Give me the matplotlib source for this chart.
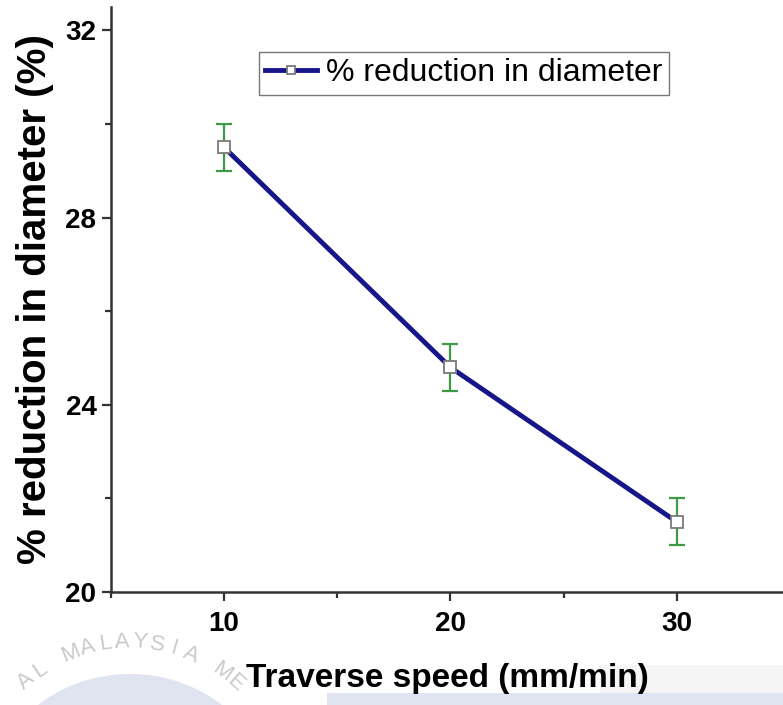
import numpy as np
import matplotlib
matplotlib.use("Agg")
import matplotlib.pyplot as plt
from matplotlib.patches import Circle, Rectangle
from matplotlib.ticker import MultipleLocator

plt.rcParams['font.family'] = ['Liberation Sans', 'DejaVu Sans']

# Traverse speed vs. percentage reduction in diameter
speed = [10, 20, 30]
reduction = [29.5, 24.8, 21.5]
reduction_err = [0.5, 0.5, 0.5]
x_ticks = [10, 20, 30]
y_ticks = [20, 24, 28, 32]

W, H = 783, 705
fig = plt.figure(figsize=(W / 100, H / 100), dpi=100)
ax = fig.add_axes([111 / W, 1 - 592 / H, 1 - 111 / W, 585 / H])

# faint seal watermark and bands at the bottom of the page
fig.patches.append(Circle((130 / W, 1 - 800 / H), 140 / W, transform=fig.transFigure,
                          facecolor='#dfe4f0', edgecolor='none', zorder=-5))
fig.patches.append(Rectangle((600 / W, 12 / H), 1, 28 / H, transform=fig.transFigure,
                             facecolor='#f5f5f5', edgecolor='none', zorder=-6))
fig.patches.append(Rectangle((327 / W, 0), 1, 12 / H, transform=fig.transFigure,
                             facecolor='#dfe4f0', edgecolor='none', zorder=-5))
seal = "AL MALAYSIA ME"
cx, cy, r = 130, 800, 158
angles = np.linspace(131, 48, len(seal))
for ch, a in zip(seal, angles):
    px = cx + r * np.cos(np.radians(a))
    py = cy - r * np.sin(np.radians(a))
    fig.text(px / W, 1 - py / H, ch, fontsize=16, color='#cacaca',
             rotation=a - 90, ha='center', va='center', zorder=-4)

ax.errorbar(speed, reduction, yerr=reduction_err, fmt='none', ecolor='#3f9a46',
            elinewidth=1.6, capsize=6, capthick=1.6, zorder=2)
ax.plot(speed, reduction, color='#16168a', lw=3.5, marker='s', ms=8,
        mfc='white', mec='#7a7a7a', mew=1.3, zorder=3,
        label='% reduction in diameter')

ax.set_xlim(5, 34.7)
ax.set_ylim(20, 32.5)
ax.set_xticks(x_ticks)
ax.set_yticks(y_ticks)
ax.xaxis.set_minor_locator(MultipleLocator(5))
ax.yaxis.set_minor_locator(MultipleLocator(2))

for s in ('top', 'right'):
    ax.spines[s].set_visible(False)
for s in ('left', 'bottom'):
    ax.spines[s].set_linewidth(1.8)
    ax.spines[s].set_color('#333333')

ax.tick_params(which='major', direction='out', length=6.5, width=1.6, colors='#333333',
               labelsize=20, labelcolor='black')
ax.tick_params(which='minor', direction='out', length=4.3, width=1.6, colors='#333333')
ax.tick_params(axis='y', which='major', pad=4)
ax.tick_params(axis='x', which='major', pad=7)
for lab in ax.get_xticklabels() + ax.get_yticklabels():
    lab.set_fontweight('bold')

ax.set_xlabel('Traverse speed (mm/min)', fontsize=24, fontweight='bold', labelpad=19)
ax.set_ylabel('% reduction in diameter (%)', fontsize=29, fontweight='bold', labelpad=8)

leg = ax.legend(loc='upper left', bbox_to_anchor=(148 / 672, 1 - 45 / 585),
                fontsize=23, frameon=True, fancybox=False, handlelength=1.6,
                handletextpad=0.3, borderpad=0.2, borderaxespad=0, markerscale=0.8)
leg.get_frame().set_edgecolor('#555555')
leg.get_frame().set_linewidth(1.0)

fig.savefig('out.png', dpi=100, facecolor='white')
